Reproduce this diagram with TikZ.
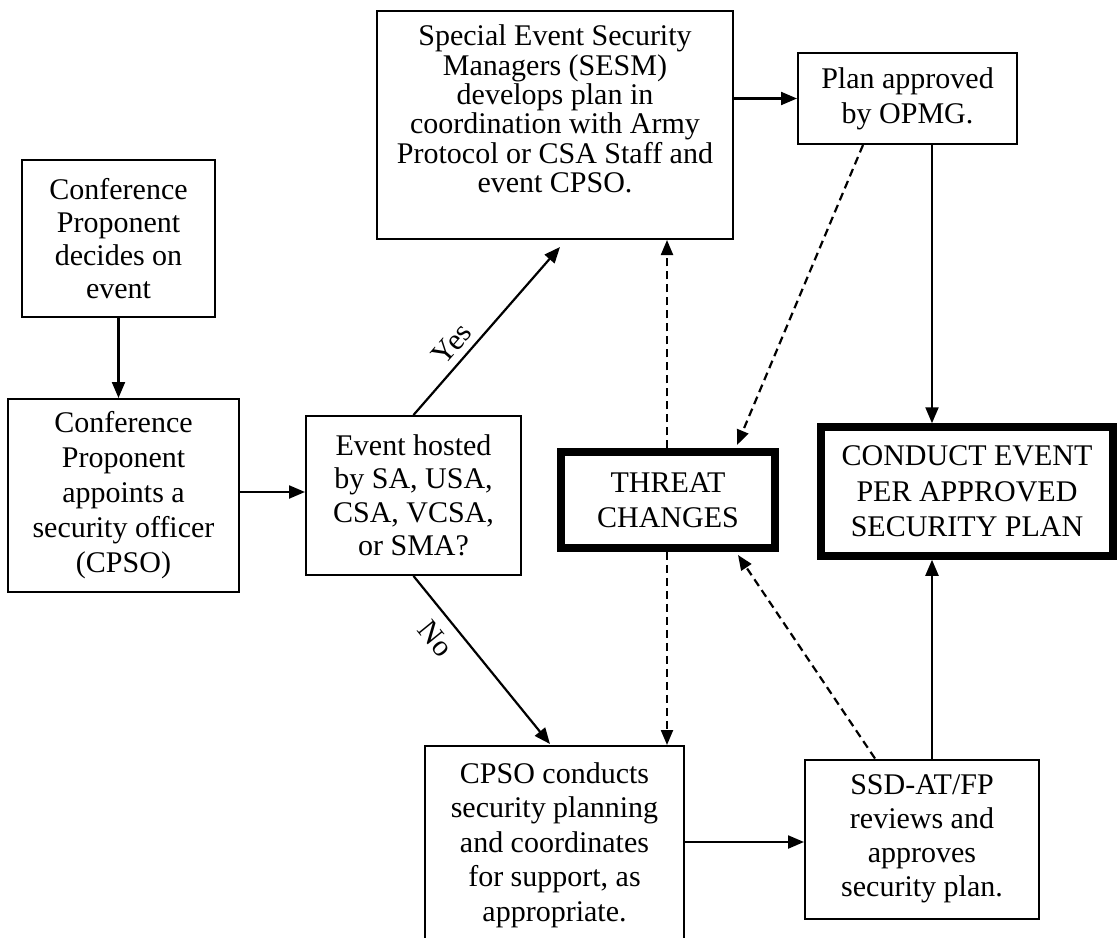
\documentclass[tikz,border=0pt]{standalone}
\usepackage{fontspec}
\setmainfont{Liberation Serif}
\usetikzlibrary{arrows.meta}
\begin{document}
\begin{tikzpicture}[x=1pt,y=-1pt,
  every node/.style={font=\fontsize{30}{34}\selectfont},
  box/.style={draw, line width=2pt, align=center, inner sep=0pt},
  thickbox/.style={draw, line width=7.5pt, align=center, inner sep=0pt},
  txt/.style={align=center, inner sep=0pt},
  arr/.style={line width=2.2pt, -{Triangle[length=16pt,width=13pt]}},
  darr/.style={line width=2.2pt, dash pattern=on 8pt off 5pt, -{Triangle[length=15pt,width=12pt]}},
  lbl/.style={inner sep=2pt, sloped}
]
\useasboundingbox (0,0) rectangle (1119,937);

% boxes
\node[box, minimum width=193pt, minimum height=157pt, font=\fontsize{30}{33}\selectfont] (b1) at (118.5,238.5)
  {Conference\\Proponent\\decides on\\event};
\node[box, minimum width=231pt, minimum height=193pt, font=\fontsize{30}{35}\selectfont] (b2) at (123.5,495.5)
  {Conference\\Proponent\\appoints a\\security officer\\(CPSO)};
\node[box, minimum width=215pt, minimum height=159pt, font=\fontsize{30}{33.5}\selectfont] (b3) at (413.5,495.5)
  {Event hosted\\by SA, USA,\\CSA, VCSA,\\or SMA?};
\node[box, minimum width=356pt, minimum height=228pt] (sesm) at (555,125) {};
\node[txt, font=\fontsize{30}{29.4}\selectfont] (sesmtxt) at (555,109)
  {Special Event Security\\Managers (SESM)\\develops plan in\\coordination with Army\\Protocol or CSA Staff and\\event CPSO.};
\node[box, minimum width=219pt, minimum height=91pt, font=\fontsize{30}{35}\selectfont] (plan) at (907.5,98.5)
  {Plan approved\\by OPMG.};
\node[thickbox, minimum width=214pt, minimum height=96pt, font=\fontsize{30}{35}\selectfont] (threat) at (668,500)
  {THREAT\\CHANGES};
\node[thickbox, minimum width=292pt, minimum height=129pt, font=\fontsize{30}{35.5}\selectfont] (conduct) at (967,491.5)
  {CONDUCT EVENT\\PER APPROVED\\SECURITY PLAN};
\node[box, minimum width=259pt, minimum height=198pt, font=\fontsize{30}{34.5}\selectfont] (cpso) at (554.5,845)
  {CPSO conducts\\security planning\\and coordinates\\for support, as\\appropriate.};
\node[box, minimum width=234pt, minimum height=159pt, font=\fontsize{30}{34}\selectfont] (ssd) at (922,839)
  {SSD-AT/FP\\reviews and\\approves\\security plan.};

% helper coordinates
\coordinate (yesEnd) at (560,247);
\coordinate (noEnd) at (550,744);
\coordinate (t1) at (737,445);
\coordinate (t2) at (738,555);
\coordinate (pc) at (932,0);

% solid connectors
\draw[arr] (b1.south) -- (b1.south |- b2.north);
\draw[arr] (b2.east |- 0,492) -- (b3.west |- 0,492);
\draw[arr] (b3.north) -- (yesEnd) node[lbl, pos=0.355, above=5pt] (yes) {Yes};
\draw[arr] (b3.south) -- (noEnd) node[lbl, pos=0.29, below=9pt] (no) {No};
\draw[arr] (sesm.east |- plan.west) -- (plan.west);
\draw[arr] (pc |- plan.south) -- (pc |- conduct.north);
\draw[arr] (pc |- ssd.north) -- (pc |- conduct.south);
\draw[arr] (cpso.east |- 0,842) -- (ssd.west |- 0,842);

% dashed connectors
\draw[darr] (threat.north -| 667,0) -- (sesm.south -| 667,0);
\draw[darr] (threat.south -| 667,0) -- (cpso.north -| 667,0);
\draw[darr] ([xshift=-44.5pt]plan.south) -- (t1);
\draw[darr] ([xshift=-47pt]ssd.north) -- (t2);
\end{tikzpicture}
\end{document}
